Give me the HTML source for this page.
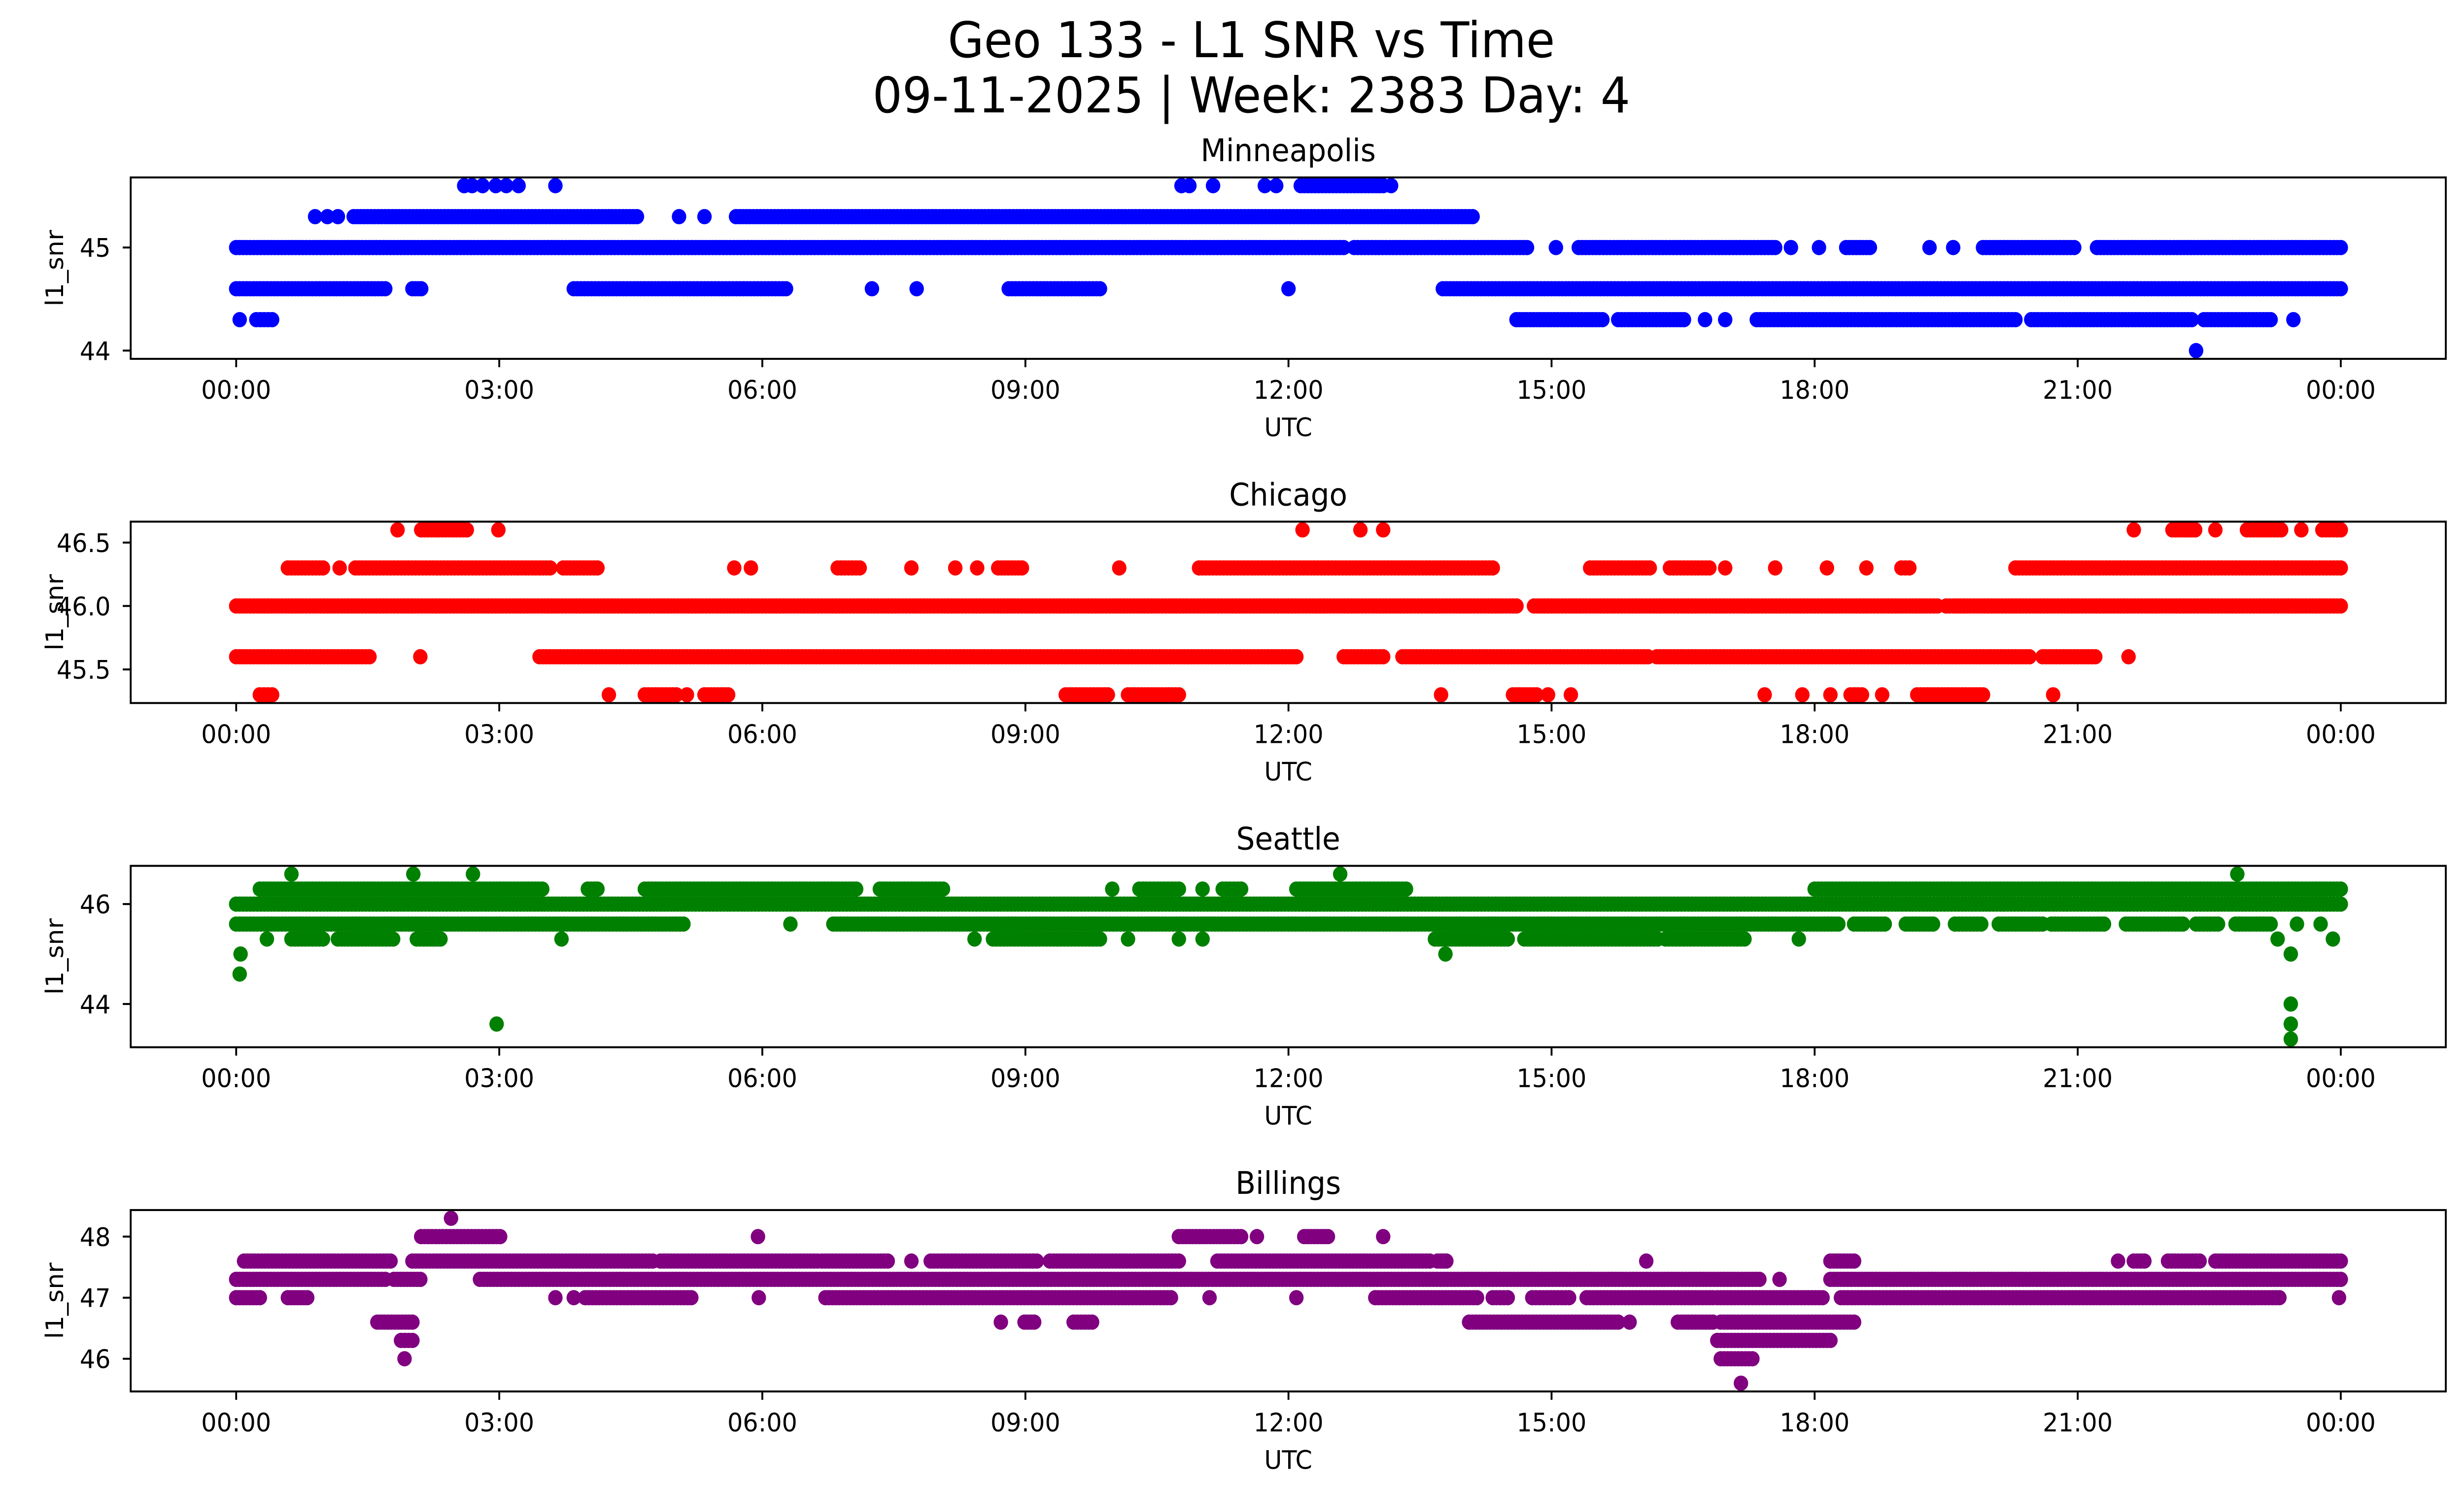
<!DOCTYPE html>
<html><head><meta charset="utf-8"><style>
html,body{margin:0;padding:0;background:#fff;overflow:hidden;width:100%;height:100%;}
svg{display:block;width:100vw;height:100vh;font-family:"DejaVu Sans","Liberation Sans",sans-serif;}
</style></head><body>
<svg id="fig" viewBox="0 0 5279 3033" preserveAspectRatio="none" xmlns="http://www.w3.org/2000/svg">
<rect width="5279" height="3033" fill="#fff"/>
<text x="2681" y="116" font-size="100" text-anchor="middle">Geo 133 - L1 SNR vs Time</text>
<text x="2681" y="228" font-size="100" text-anchor="middle">09-11-2025 | Week: 2383 Day: 4</text>
</svg>
<script>
// ---- data (hours UTC; each run = [start, end], single point when start==end) ----
const stationNames = ["Minneapolis", "Chicago", "Seattle", "Billings"];
const stationColors = ["#0000ff", "#ff0000", "#008000", "#800080"];
const yTicksMin = [44, 45];
const yTicksChi = [45.5, 46.0, 46.5];
const yTicksSea = [44, 46];
const yTicksBil = [46, 47, 48];
const yTickLabelsMin = ["44", "45"];
const yTickLabelsChi = ["45.5", "46.0", "46.5"];
const yTickLabelsSea = ["44", "46"];
const yTickLabelsBil = ["46", "47", "48"];
const xTickHours = [0, 3, 6, 9, 12, 15, 18, 21, 24];
const xTickLabels = ["00:00", "03:00", "06:00", "09:00", "12:00", "15:00", "18:00", "21:00", "00:00"];

const minLevels = [45.6, 45.3, 45.0, 44.6, 44.3, 44.0];
const minRuns = [
  [[2.60,2.60],[2.69,2.69],[2.81,2.81],[2.96,2.96],[3.08,3.08],[3.22,3.22],[3.64,3.64],[10.78,10.78],[10.87,10.87],[11.14,11.14],[11.73,11.73],[11.86,11.86],[12.14,13.08],[13.17,13.17]],
  [[0.90,0.90],[1.04,1.04],[1.16,1.16],[1.34,4.57],[5.05,5.05],[5.34,5.34],[5.70,14.10]],
  [[0,12.63],[12.75,14.72],[15.05,15.05],[15.31,17.55],[17.73,17.73],[18.05,18.05],[18.36,18.63],[19.31,19.31],[19.58,19.58],[19.92,20.96],[21.22,24]],
  [[0,1.70],[2.01,2.11],[3.85,6.27],[7.25,7.25],[7.76,7.76],[8.81,9.85],[12.0,12.0],[13.76,24]],
  [[0.04,0.04],[0.23,0.41],[14.6,15.58],[15.76,16.51],[16.75,16.75],[16.98,16.98],[17.34,20.29],[20.47,22.30],[22.44,23.2],[23.46,23.46]],
  [[22.35,22.35]]
];
const chiLevels = [46.6, 46.3, 46.0, 45.6, 45.3];
const chiRuns = [
  [[1.84,1.84],[2.11,2.63],[2.99,2.99],[12.16,12.16],[12.82,12.82],[13.08,13.08],[21.64,21.64],[22.08,22.34],[22.57,22.57],[22.93,23.32],[23.55,23.55],[23.79,24]],
  [[0.59,0.99],[1.18,1.18],[1.36,3.58],[3.73,4.12],[5.68,5.68],[5.87,5.87],[6.86,7.11],[7.70,7.70],[8.20,8.20],[8.45,8.45],[8.69,8.96],[10.07,10.07],[10.98,14.33],[15.44,16.12],[16.35,16.80],[16.98,16.98],[17.55,17.55],[18.14,18.14],[18.59,18.59],[18.99,19.08],[20.29,24]],
  [[0,14.6],[14.8,19.4],[19.5,24]],
  [[0,1.52],[2.10,2.10],[3.46,12.09],[12.63,13.08],[13.3,16.1],[16.2,20.45],[20.6,21.2],[21.58,21.58]],
  [[0.27,0.41],[4.25,4.25],[4.66,5.02],[5.14,5.14],[5.34,5.61],[9.46,9.94],[10.17,10.75],[13.74,13.74],[14.56,14.83],[14.96,14.96],[15.22,15.22],[17.43,17.43],[17.86,17.86],[18.18,18.18],[18.41,18.54],[18.77,18.77],[19.17,19.92],[20.72,20.72]]
];
const seaLevels = [46.6, 46.3, 46.0, 45.6, 45.3, 45.0, 44.6, 44.0, 43.6, 43.3];
const seaRuns = [
  [[0.63,0.63],[2.02,2.02],[2.70,2.70],[12.59,12.59],[22.82,22.82]],
  [[0.27,3.49],[4.01,4.12],[4.66,7.07],[7.34,8.06],[9.99,9.99],[10.3,10.75],[11.02,11.02],[11.25,11.46],[12.09,13.34],[18.0,24]],
  [[0,24]],
  [[0,5.1],[6.32,6.32],[6.81,18.27],[18.45,18.8],[19.04,19.35],[19.6,19.9],[20.1,20.6],[20.7,21.3],[21.55,22.2],[22.35,22.6],[22.8,23.2],[23.5,23.5],[23.77,23.77]],
  [[0.35,0.35],[0.63,0.99],[1.16,1.79],[2.06,2.33],[3.71,3.71],[8.42,8.42],[8.63,9.85],[10.17,10.17],[10.75,10.75],[11.02,11.02],[13.67,14.5],[14.69,16.21],[16.3,17.2],[17.82,17.82],[23.28,23.28],[23.91,23.91]],
  [[0.05,0.05],[13.79,13.79],[23.43,23.43]],
  [[0.04,0.04]],
  [[23.43,23.43]],
  [[2.97,2.97],[23.43,23.43]],
  [[23.43,23.43]]
];
const bilLevels = [48.3, 48.0, 47.6, 47.3, 47.0, 46.6, 46.3, 46.0, 45.6];
const bilRuns = [
  [[2.45,2.45]],
  [[2.11,3.01],[5.95,5.95],[10.75,11.46],[11.64,11.64],[12.18,12.45],[13.08,13.08]],
  [[0.09,1.76],[2.01,4.75],[4.84,6.63],[6.68,7.43],[7.70,7.70],[7.92,9.13],[9.28,10.75],[11.19,13.61],[13.7,13.8],[16.08,16.08],[18.18,18.45],[21.46,21.46],[21.64,21.76],[22.03,22.39],[22.57,24]],
  [[0,1.70],[1.8,2.1],[2.78,17.37],[17.6,17.6],[18.18,24]],
  [[0,0.27],[0.59,0.81],[3.64,3.64],[3.85,3.85],[3.98,5.19],[5.96,5.96],[6.72,10.66],[11.1,11.1],[12.09,12.09],[12.99,14.15],[14.33,14.5],[14.78,15.2],[15.4,16.84],[16.89,18.09],[18.3,23.3],[23.98,23.98]],
  [[1.61,2.01],[8.72,8.72],[8.99,9.1],[9.55,9.76],[14.06,15.76],[15.89,15.89],[16.44,16.84],[16.93,18.45]],
  [[1.88,2.01],[16.89,18.18]],
  [[1.92,1.92],[16.93,17.29]],
  [[17.16,17.16]]
];
const yLimits = [[43.92,45.68],[45.235,46.665],[43.135,46.765],[45.465,48.435]];

const panels = [
  {levels:minLevels, runs:minRuns, ticks:yTicksMin, labels:yTickLabelsMin},
  {levels:chiLevels, runs:chiRuns, ticks:yTicksChi, labels:yTickLabelsChi},
  {levels:seaLevels, runs:seaRuns, ticks:yTicksSea, labels:yTickLabelsSea},
  {levels:bilLevels, runs:bilRuns, ticks:yTicksBil, labels:yTickLabelsBil}
];

// ---- layout ----
const NS = "http://www.w3.org/2000/svg";
const svg = document.getElementById("fig");
const AX_L = 280, AX_R = 5240, AX_H = 368, PANEL_STEP = 698.3, TOP0 = 360;
const X0 = 506, X24 = 5015;
function xScale(h){ return X0 + (X24 - X0) * h / 24; }
function mk(tag, attrs, parent){
  const e = document.createElementNS(NS, tag);
  for (const k in attrs) e.setAttribute(k, attrs[k]);
  (parent || svg).appendChild(e);
  return e;
}
const STEP = 0.04, R = 15.5;

panels.forEach((p, i) => {
  const top = TOP0 + i * PANEL_STEP, bot = top + AX_H;
  const [ymin, ymax] = yLimits[i];
  const yScale = v => bot - (v - ymin) / (ymax - ymin) * AX_H;
  const g = mk("g", {});
  
  

  const title = mk("text", {x: (AX_L+AX_R)/2, y: top - 33, "font-size": 63, "text-anchor": "middle"}, g);
  
  
  title.textContent = stationNames[i];

  const pts = mk("g", {fill: stationColors[i]}, g);
  
  
  p.levels.forEach((lv, li) => {
    const cy = yScale(lv);
    p.runs[li].forEach(run => {
      const s = run[0], e = run[1];
      const n = Math.max(0, Math.round((e - s) / STEP));
      for (let k = 0; k <= n; k++) {
        const h = n === 0 ? s : s + (e - s) * k / n;
        const c = mk("circle", {cx: xScale(h).toFixed(1), cy: cy.toFixed(1), r: R}, pts);
        
        
      }
    });
  });

  const fr = mk("rect", {x: AX_L, y: top, width: AX_R - AX_L, height: AX_H, fill: "none", stroke: "#000", "stroke-width": 4}, g);
  
  

  xTickHours.forEach((h, k) => {
    const x = xScale(h);
    const t = mk("line", {x1: x, x2: x, y1: bot, y2: bot + 17, stroke: "#000", "stroke-width": 4}, g);
    
    
    const l = mk("text", {x: x, y: bot + 81, "font-size": 52, "text-anchor": "middle"}, g);
    
    
    l.textContent = xTickLabels[k];
  });
  const xl = mk("text", {x: (AX_L+AX_R)/2, y: bot + 157, "font-size": 52, "text-anchor": "middle"}, g);
  
  
  xl.textContent = "UTC";

  p.ticks.forEach((v, k) => {
    const y = yScale(v);
    const t = mk("line", {x1: AX_L - 17, x2: AX_L, y1: y, y2: y, stroke: "#000", "stroke-width": 4}, g);
    
    
    const l = mk("text", {x: 237, y: y + 19, "font-size": 52, "text-anchor": "end"}, g);
    
    
    l.textContent = p.labels[k];
  });
  const cy = (top + bot) / 2;
  const yl = mk("text", {x: 0, y: 0, "font-size": 52, "text-anchor": "middle", transform: "translate(135," + cy + ") rotate(-90)"}, g);
  
  
  yl.textContent = "l1_snr";
});
</script>
</body></html>
